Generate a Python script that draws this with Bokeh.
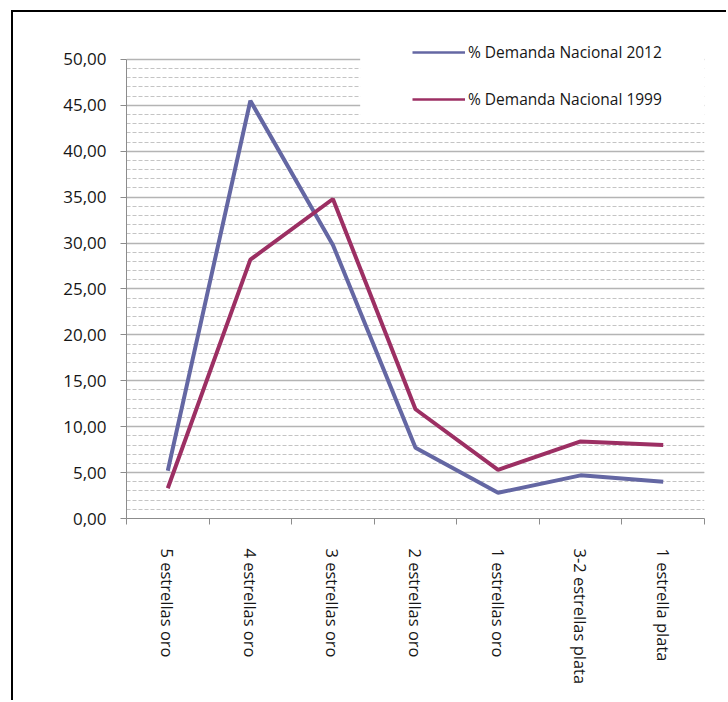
from bokeh.plotting import figure
from bokeh.models import (Range1d, FixedTicker, Legend, LegendItem, BoxAnnotation)
from bokeh.embed import file_html
from bokeh.resources import INLINE

categories = ["5 estrellas oro", "4 estrellas oro", "3 estrellas oro", "2 estrellas oro",
              "1 estrellas oro", "3-2 estrellas plata", "1 estrella plata"]
demanda_2012 = [5.2, 45.5, 29.8, 7.7, 2.8, 4.7, 4.0]
demanda_1999 = [3.3, 28.2, 34.8, 11.9, 5.3, 8.4, 8.0]
y_ticks = [0, 5, 10, 15, 20, 25, 30, 35, 40, 45, 50]
y_tick_labels = ["0,00", "5,00", "10,00", "15,00", "20,00", "25,00", "30,00",
                 "35,00", "40,00", "45,00", "50,00"]
series_names = ["% Demanda Nacional 2012", "% Demanda Nacional 1999"]

BLUE = "#6467a3"
RED = "#9c2f63"
FONT = "Open Sans"
TXT = "#161616"

xs = [i + 0.5 for i in range(len(categories))]

p = figure(width=715, height=690, output_backend="svg", toolbar_location=None,
           x_range=Range1d(0, len(categories)), y_range=Range1d(0, 52.5),
           min_border_left=113, min_border_right=24, min_border_top=24,
           min_border_bottom=184)
p.styles = {"border-top": "2px solid black", "border-left": "2px solid black",
            "margin-left": "11px", "margin-top": "10px"}
p.outline_line_color = None
p.background_fill_color = "white"
p.border_fill_color = "white"

# y axis & grid
yt = FixedTicker(ticks=y_ticks, minor_ticks=list(range(0, 51)))
p.yaxis.ticker = yt
p.yaxis.bounds = (y_ticks[0], y_ticks[-1])
p.yaxis.major_label_overrides = {t: l for t, l in zip(y_ticks, y_tick_labels)}
p.yaxis.axis_line_color = "#8c8c8c"
p.yaxis.major_tick_line_color = "#8c8c8c"
p.yaxis.major_tick_out = 6
p.yaxis.major_tick_in = 0
p.yaxis.minor_tick_line_color = None
p.yaxis.major_label_standoff = 14
p.yaxis.major_label_text_font = FONT
p.yaxis.major_label_text_font_size = "17px"
p.yaxis.major_label_text_color = TXT

p.ygrid.ticker = yt
p.ygrid.grid_line_color = "#b4b4b4"
p.ygrid.grid_line_width = 1.6
p.ygrid.minor_grid_line_color = "#c4c4c4"
p.ygrid.minor_grid_line_dash = "4 2"
p.ygrid.minor_grid_line_width = 1
p.xgrid.visible = False

# x axis
xt = FixedTicker(ticks=xs, minor_ticks=list(range(0, len(categories) + 1)))
p.xaxis.ticker = xt
p.xaxis.major_label_overrides = {x: c for x, c in zip(xs, categories)}
p.xaxis.major_label_orientation = -1.5708
p.xaxis.axis_line_color = "#8c8c8c"
p.xaxis.major_tick_line_color = None
p.xaxis.major_tick_out = 0
p.xaxis.major_tick_in = 0
p.xaxis.minor_tick_line_color = "#8c8c8c"
p.xaxis.minor_tick_out = 6
p.xaxis.minor_tick_in = 0
p.xaxis.major_label_standoff = 24
p.xaxis.major_label_text_font = FONT
p.xaxis.major_label_text_font_size = "16.5px"
p.xaxis.major_label_text_color = TXT

# white area behind legend
p.add_layout(BoxAnnotation(left=2.83, bottom=43.1, fill_color="white", fill_alpha=1,
                           line_color=None))

r1 = p.line(xs, demanda_2012, line_color=BLUE, line_width=4)
r2 = p.line(xs, demanda_1999, line_color=RED, line_width=4)

nan = float("nan")
l1 = p.line([nan], [nan], line_color=BLUE, line_width=2.5)
l2 = p.line([nan], [nan], line_color=RED, line_width=2.5)

legend = Legend(items=[LegendItem(label=series_names[0], renderers=[l1]),
                       LegendItem(label=series_names[1], renderers=[l2])],
                location=(286, 408), background_fill_alpha=0, border_line_color=None,
                padding=0, margin=0, spacing=25, glyph_width=53, glyph_height=20,
                label_height=20, label_standoff=3, label_text_font=FONT,
                label_text_font_size="15.5px", label_text_color=TXT)
p.add_layout(legend)

open("out.html", "w").write(file_html(p, INLINE))
